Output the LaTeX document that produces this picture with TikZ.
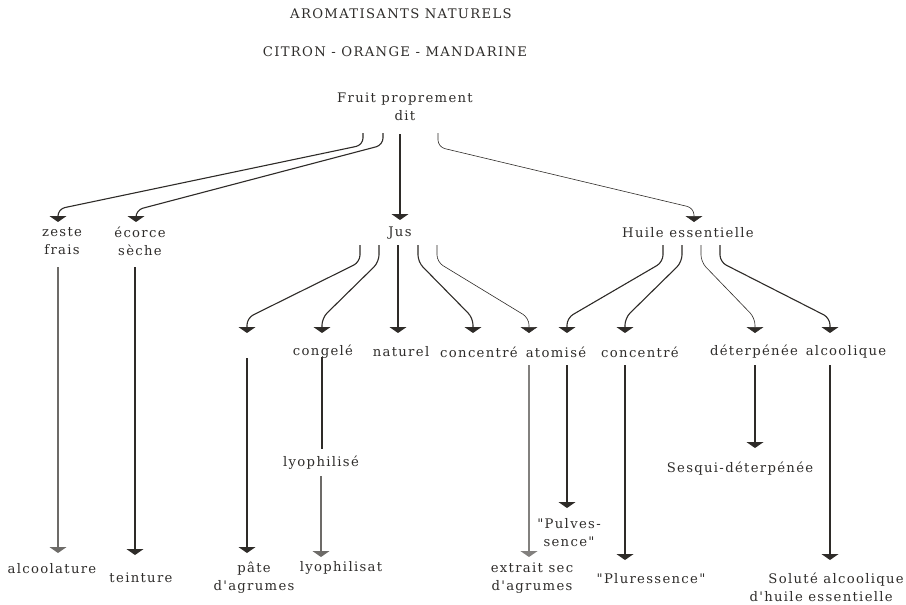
\documentclass[tikz,border=0pt]{standalone}
\usepackage{fontspec}
\setmainfont{DejaVu Serif}[LetterSpace=10, Ligatures=TeXOff]
\usetikzlibrary{arrows.meta}
\definecolor{ink}{HTML}{2E2B28}
\definecolor{txt}{HTML}{2E2C2A}
\tikzset{
  lbl/.style={text=txt, inner sep=0pt, align=center, font=\fontsize{13.2}{18}\selectfont},
  arr/.style={draw=ink, line width=1.1pt, -{Triangle[width=17pt,length=6pt]}, rounded corners=7pt},
  arrthin/.style={arr, line width=0.6pt},
  plain/.style={draw=ink, line width=1.1pt},
}
\begin{document}
\begin{tikzpicture}[x=1pt,y=-1pt]
\useasboundingbox (0,0) rectangle (906,605);
% titles
\node[lbl] (t1) at (401,14) {AROMATISANTS NATURELS};
\node[lbl] (t2) at (395,52) {CITRON - ORANGE - MANDARINE};
\node[lbl] (fruit) at (405,107) {Fruit proprement\\dit};
% level 1
\node[lbl] (zeste) at (62,241) {zeste\\frais};
\node[lbl] (ecorce) at (140,241) {écorce\\sèche};
\node[lbl] (jus) at (400,233) {Jus};
\node[lbl] (huile) at (688,233) {Huile essentielle};
% level 2
\node[lbl] (congele) at (323,352) {congelé};
\node[lbl] (naturel) at (401,352) {naturel};
\node[lbl] (concj) at (479,352) {concentré};
\node[lbl] (atom) at (556,352) {atomisé};
\node[lbl] (conch) at (640,352) {concentré};
\node[lbl] (deterp) at (754,352) {déterpénée};
\node[lbl] (alcool) at (846,352) {alcoolique};
% level 3
\node[lbl] (lyoph) at (321,463) {lyophilisé};
\node[lbl] (sesqui) at (740,469) {Sesqui-déterpénée};
\node[lbl] (pulves) at (569,533) {"Pulves-\\sence"};
% bottom
\node[lbl] (alcoolat) at (52,569) {alcoolature};
\node[lbl] (teint) at (141,578) {teinture};
\node[lbl] (pate) at (254,578) {pâte\\d'agrumes};
\node[lbl] (lyophsat) at (341,568) {lyophilisat};
\node[lbl] (extrait) at (532,578) {extrait sec\\d'agrumes};
\node[lbl] (plur) at (651,579) {"Pluressence"};
\node[lbl, align=right, anchor=east] (solute) at (904,587) {Soluté alcoolique\\d'huile essentielle\hspace*{11pt}};
% named connector ends
\coordinate (f1) at (363,133);
\coordinate (f2) at (383,133);
\coordinate (f3) at (400,134);
\coordinate (f4) at (438,133);
\coordinate (ztip) at (58,222);
\coordinate (etip) at (136,222);
\coordinate (jtip) at (400,220);
\coordinate (htip) at (694,222);
\coordinate (pjtip) at (247,333);
\coordinate (cgtip) at (322,333);
\coordinate (nttip) at (398,333);
\coordinate (cjtip) at (473,333);
\coordinate (a1tip) at (529,333);
\coordinate (a2tip) at (567,333);
\coordinate (chtip) at (625,333);
\coordinate (dttip) at (755,333);
\coordinate (altip) at (830,333);
% Fruit -> level 1
\draw[arr] (f1) -- (363,145) -- (58,209) -- (ztip);
\draw[arr] (f2) -- (383,145) -- (136,210) -- (etip);
\draw[arr] (f3) -- (jtip);
\draw[arrthin] (f4) -- (438,147) -- (694,208) -- (htip);
% Jus -> level 2
\draw[arr] (360,245) -- (360,262) -- (247,318) -- (pjtip);
\draw[arr] (379,245) -- (379,262) -- (322,318) -- (cgtip);
\draw[arr] (398,245) -- (nttip);
\draw[arr] (418,245) -- (418,262) -- (473,318) -- (cjtip);
\draw[arrthin] (437,245) -- (437,262) -- (529,318) -- (a1tip);
% Huile -> level 2
\draw[arr] (663,245) -- (663,262) -- (567,318) -- (a2tip);
\draw[arr] (682,245) -- (682,262) -- (625,318) -- (chtip);
\draw[arrthin] (701,245) -- (701,262) -- (755,318) -- (dttip);
\draw[arr] (720,245) -- (720,262) -- (830,318) -- (altip);
% verticals
\coordinate (zb) at (58,553);
\coordinate (eb) at (135,555);
\coordinate (pb) at (247,553);
\coordinate (lb) at (321,557);
\coordinate (xb) at (529,557);
\coordinate (pub) at (567,508);
\coordinate (plb) at (625,560);
\coordinate (sqb) at (755,448);
\coordinate (sob) at (830,560);
\draw[arr, draw=ink!70] (58,267) -- (zb);
\draw[arr] (135,267) -- (eb);
\draw[arr] (247,358) -- (pb);
\draw[plain] (322,357) -- (322,449);
\draw[arr, draw=ink!70] (321,476) -- (lb);
\draw[arr, draw=ink!60, line width=1.6pt] (529,365) -- (xb);
\draw[arr] (567,365) -- (pub);
\draw[arr] (625,365) -- (plb);
\draw[arr] (755,365) -- (sqb);
\draw[arr] (830,365) -- (sob);
\end{tikzpicture}
\end{document}
